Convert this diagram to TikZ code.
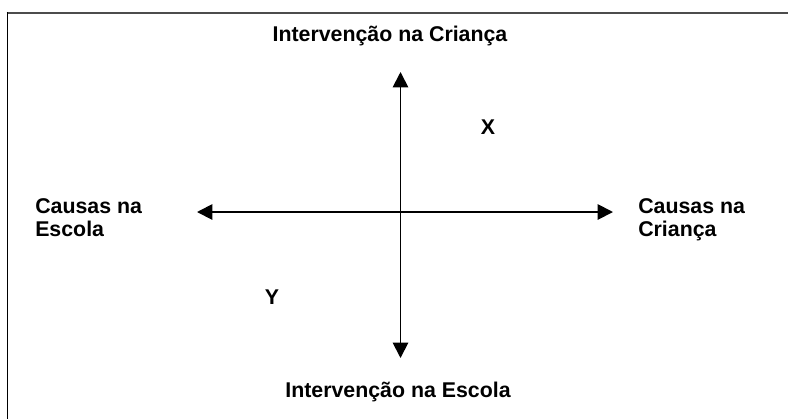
\documentclass[tikz,border=0pt]{standalone}
\usepackage{fontspec}
\setmainfont{Liberation Sans}
\usetikzlibrary{arrows.meta}
\tikzset{>=stealth}

\begin{document}
\begin{tikzpicture}[x=0.75pt, y=-0.75pt,
        every node/.style={inner sep=0pt, font=\bfseries\fontsize{16}{17.6}\selectfont},
        axis/.style={line width=1.4pt, <->, >={Triangle[length=11.5pt, width=11.5pt]}}]
        \useasboundingbox (0,0) rectangle (788,419);
        % frame (top and left edge only)
        \draw[line width=1.5pt, black!70] (6.5,12.5) -- (788,12.5);
        \draw[line width=1.4pt] (7.5,11.8) -- (7.5,419);

        \coordinate (west) at (197,212);
        \coordinate (east) at (613,212);
        \coordinate (north) at (400.5,72);
        \coordinate (south) at (400.5,358);
        \draw[axis] (west) -- (east);
        \draw[axis] (south) -- (north);

        \node[anchor=base] (kid) at (390,41.5) {Intervenção na Criança};
        \node[anchor=base] (school) at (398,397) {Intervenção na Escola};
        \node[anchor=base west, align=left] (causeSchool) at (35,236.5) {Causas na\\Escola};
        \node[anchor=base west, align=left] (causeKid) at (638,236.5) {Causas na\\Criança};

        \node (x) at (488,127) {X};
        \node (y) at (272,297) {Y};
        \end{tikzpicture}
\end{document}
